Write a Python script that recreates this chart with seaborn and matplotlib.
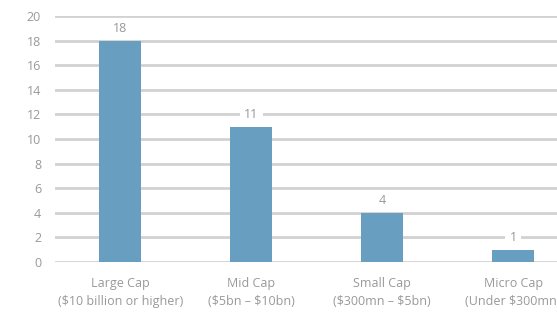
import matplotlib
matplotlib.use('Agg')
import matplotlib.pyplot as plt
import seaborn as sns
import pandas as pd

categories = ['Large Cap\n($10 billion or higher)', 'Mid Cap\n($5bn – $10bn)',
              'Small Cap\n($300mn – $5bn)', 'Micro Cap\n(Under $300mn)']
counts = [18, 11, 4, 1]
yticks = list(range(0, 21, 2))

df = pd.DataFrame({'cat': categories, 'n': counts})

sns.set_style('white')
plt.rcParams['font.family'] = ['Open Sans', 'DejaVu Sans']
plt.rcParams['text.parse_math'] = False

fig = plt.figure(figsize=(5.57, 3.18), dpi=100)
ax = fig.add_axes([0.0987, 0.176, 0.94, 0.774])

sns.barplot(data=df, x='cat', y='n', color='#689fc1', width=0.32,
            saturation=1, ax=ax, zorder=3, linewidth=0, edgecolor='none')

ax.set_ylim(0, 20)
ax.set_xlim(-0.5, 3.5)
ax.set_yticks(yticks)
ax.yaxis.grid(True, color='#d2d2d2', linewidth=2.0, zorder=0)
ax.set_axisbelow(True)
for s in ax.spines.values():
    s.set_visible(False)
ax.tick_params(axis='both', length=0, colors='#999999', labelsize=9)
ax.tick_params(axis='y', pad=10)
ax.tick_params(axis='x', pad=11)
for t in ax.get_xticklabels():
    t.set_linespacing(1.5)
ax.set_xlabel('')
ax.set_ylabel('')

for i, v in enumerate(counts):
    ax.annotate(str(v), (i, v), xytext=(0, 4), textcoords='offset points',
                ha='center', va='bottom', fontsize=9, color='#999999',
                bbox=dict(boxstyle='square,pad=0.35', fc='white', ec='none'),
                zorder=4)

fig.savefig('out.png', dpi=100)
